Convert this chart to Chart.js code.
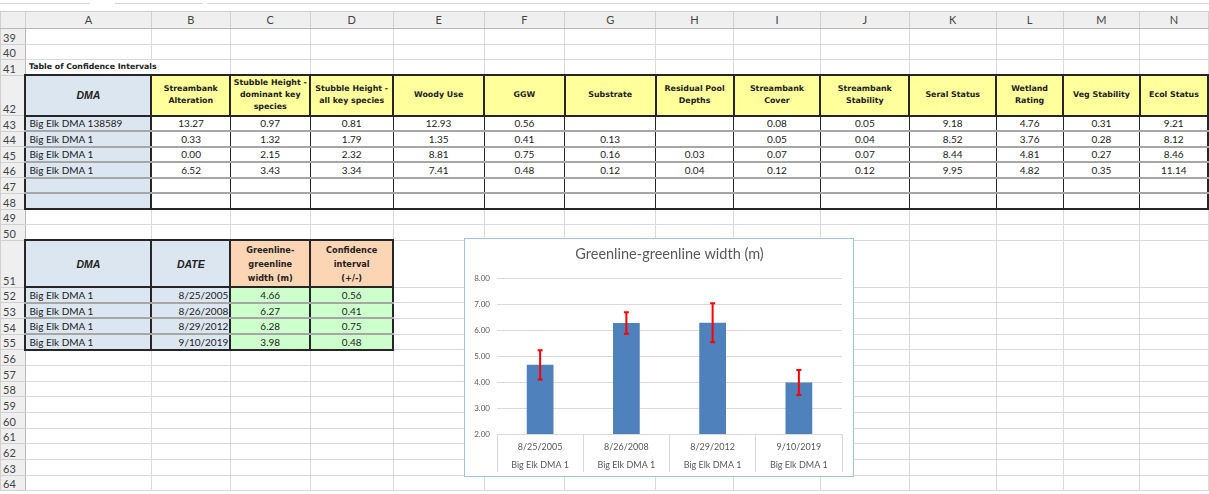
<!DOCTYPE html>
<html>
<head>
<meta charset="utf-8">
<script src="https://cdn.jsdelivr.net/npm/chart.js@4/dist/chart.umd.min.js"></script>
<style>
  body { margin: 0; background: #fff; width: 1209px; height: 494px; overflow: hidden; position: relative; font-family: Lato, "Open Sans", sans-serif; }
  .strip { position: absolute; left: 0; top: 0; width: 1209px; height: 11px; background: #fff; }
  .strip div { position: absolute; top: 3px; height: 0; border-top: 1px solid #d6d6d6; }
  table.sheet { position: absolute; left: 0; top: 11px; border-collapse: collapse; table-layout: fixed; }
  .sheet td { border: 1px solid #dadada; padding: 0 3px; font-size: 10px; color: #222; white-space: nowrap; overflow: visible; line-height: 12px; }
  .sheet tr.hd td { background: #efefef; color: #444; font-size: 11px; text-align: center; border-color: #d0d0d0; border-bottom: 1px solid #b8b8b8; }
  .sheet td.rn { background: #efefef; color: #444; font-size: 11px; vertical-align: bottom; text-align: left; padding-left: 2px; border-color: #d0d0d0; border-right: 1px solid #b8b8b8; }
  .sheet td.corner { background: #efefef linear-gradient(135deg, transparent 62%, #c9c9c9 62%, #c9c9c9 80%, transparent 80%) no-repeat; }
  .sheet td.ttl { font-family: "DejaVu Sans", sans-serif; font-weight: bold; font-size: 7.8px; border-right: none; }
  .sheet td.hy, .sheet td.ho, .sheet td.hb { font-family: "DejaVu Sans", sans-serif; font-weight: bold; font-size: 7.9px; line-height: 12px; text-align: center; border: 2px solid #262626; padding: 0; }
  .sheet td.hy { background: #ffff9c; }
  .sheet td.ho { background: #fcd5b4; font-size: 8.2px; line-height: 14px; }
  .sheet td.hb { background: #dce6f1; font-family: "Liberation Sans", Arial, sans-serif; font-style: italic; font-size: 10.5px; }
  .sheet td.nm { background: #dce6f1; border-left: 2px solid #262626; border-right: 2px solid #262626; border-top: 2px solid #a6a6a6; border-bottom: 2px solid #a6a6a6; }
  .sheet td.dt { background: #dce6f1; text-align: right; border-left: 2px solid #262626; border-right: 2px solid #262626; border-top: 2px solid #a6a6a6; border-bottom: 2px solid #a6a6a6; padding-right: 1px; }
  .sheet td.v { text-align: center; border-left: 1px solid #262626; border-right: 1px solid #262626; border-top: 2px solid #a6a6a6; border-bottom: 2px solid #a6a6a6; }
  .sheet td.vg { background: #ccffcc; text-align: center; border-left: 2px solid #262626; border-right: 2px solid #262626; border-top: 2px solid #a6a6a6; border-bottom: 2px solid #a6a6a6; }
  .sheet td.last { border-right: 2px solid #262626; }
  .sheet tr.end td.nm, .sheet tr.end td.v, .sheet tr.end td.dt, .sheet tr.end td.vg { border-bottom: 2px solid #262626; }
  #box { position: absolute; left: 464px; top: 238px; width: 388px; height: 237px; border: 1px solid #9dc3e6; background: #fff; }
  #chart { display: block; }
</style>
</head>
<body>
<div class="strip"><div style="left:0;width:90px"></div><div style="left:115px;width:88px"></div><div style="left:207px;width:1002px"></div></div>
<table class="sheet" id="sheet"></table>
<div id="box"><canvas id="chart" width="388" height="237"></canvas></div>
<script>
/* ===== CHART DATA ===== */
const chartTitle = "Greenline-greenline width (m)";
const dates = ["8/25/2005", "8/26/2008", "8/29/2012", "9/10/2019"];
const dmaNames = ["Big Elk DMA 1", "Big Elk DMA 1", "Big Elk DMA 1", "Big Elk DMA 1"];
const widths = [4.66, 6.27, 6.28, 3.98];
const confInts = [0.56, 0.41, 0.75, 0.48];
const yTicks = [2, 3, 4, 5, 6, 7, 8];

/* ===== TABLE OF CONFIDENCE INTERVALS ===== */
const ciHeaders = ["Streambank<br>Alteration", "Stubble Height -<br>dominant key<br>species", "Stubble Height -<br>all key species",
  "Woody Use", "GGW", "Substrate", "Residual Pool<br>Depths", "Streambank<br>Cover", "Streambank<br>Stability",
  "Seral Status", "Wetland<br>Rating", "Veg Stability", "Ecol Status"];
const ciNames = ["Big Elk DMA 138589", "Big Elk DMA 1", "Big Elk DMA 1", "Big Elk DMA 1"];
const ciRows = [
  ["13.27", "0.97", "0.81", "12.93", "0.56", "", "", "0.08", "0.05", "9.18", "4.76", "0.31", "9.21"],
  ["0.33", "1.32", "1.79", "1.35", "0.41", "0.13", "", "0.05", "0.04", "8.52", "3.76", "0.28", "8.12"],
  ["0.00", "2.15", "2.32", "8.81", "0.75", "0.16", "0.03", "0.07", "0.07", "8.44", "4.81", "0.27", "8.46"],
  ["6.52", "3.43", "3.34", "7.41", "0.48", "0.12", "0.04", "0.12", "0.12", "9.95", "4.82", "0.35", "11.14"]
];

/* ===== SHEET GRID ===== */
const colW = [25, 126, 79, 80, 83, 91, 81, 91, 78, 87, 89, 87, 67, 77, 68];
const letters = ["A", "B", "C", "D", "E", "F", "G", "H", "I", "J", "K", "L", "M", "N"];

let html = "<colgroup>" + colW.map(w => `<col style="width:${w}px">`).join("") + "</colgroup>";
html += `<tr class="hd" style="height:17px"><td class="corner"></td>` + letters.map(l => `<td>${l}</td>`).join("") + "</tr>";

const empty = n => Array(n).fill("<td></td>").join("");
const rowTag = (num, h, inner, cls) => `<tr${cls ? ` class="${cls}"` : ""} style="height:${h}px"><td class="rn">${num}</td>${inner}</tr>`;

html += rowTag(39, 15.5, empty(14));
html += rowTag(40, 15.5, empty(14));
html += rowTag(41, 15.5, `<td class="ttl" colspan="2">Table of Confidence Intervals</td>` + empty(12));
html += rowTag(42, 40.5, `<td class="hb">DMA</td>` + ciHeaders.map(h => `<td class="hy">${h}</td>`).join(""));
ciRows.forEach((r, i) => {
  html += rowTag(43 + i, 15.6, `<td class="nm">${ciNames[i]}</td>` +
    r.map((v, j) => `<td class="v${j === r.length - 1 ? " last" : ""}">${v}</td>`).join(""));
});
for (let k = 0; k < 2; k++) {
  html += rowTag(47 + k, 15.6, `<td class="nm">&nbsp;</td>` +
    ciHeaders.map((h, j) => `<td class="v${j === ciHeaders.length - 1 ? " last" : ""}"></td>`).join(""), k === 1 ? "end" : "");
}
html += rowTag(49, 15.6, empty(14));
html += rowTag(50, 15.6, empty(14));
html += rowTag(51, 47, `<td class="hb">DMA</td><td class="hb">DATE</td><td class="ho">Greenline-<br>greenline<br>width (m)</td><td class="ho">Confidence<br>interval<br>(+/-)</td>` + empty(10));
dates.forEach((d, i) => {
  html += rowTag(52 + i, 15.6, `<td class="nm">${dmaNames[i]}</td><td class="dt">${d}</td><td class="vg">${widths[i].toFixed(2)}</td><td class="vg">${confInts[i].toFixed(2)}</td>` + empty(10), i === dates.length - 1 ? "end" : "");
});
for (let n = 56; n <= 64; n++) html += rowTag(n, 15.7, empty(14));
document.getElementById("sheet").innerHTML = html;

/* ===== ERROR BARS + TITLE OVER PLOT AREA ===== */
const errorBars = {
  id: "errorBars",
  afterDatasetsDraw(chart) {
    const ctx = chart.ctx;
    const y = chart.scales.y;
    const meta = chart.getDatasetMeta(0);
    ctx.save();
    ctx.strokeStyle = "#ff0000";
    ctx.lineWidth = 2;
    meta.data.forEach((bar, i) => {
      const top = y.getPixelForValue(widths[i] + confInts[i]);
      const bot = y.getPixelForValue(widths[i] - confInts[i]);
      ctx.beginPath();
      ctx.moveTo(bar.x, top); ctx.lineTo(bar.x, bot);
      ctx.moveTo(bar.x - 2.5, top); ctx.lineTo(bar.x + 2.5, top);
      ctx.moveTo(bar.x - 2.5, bot); ctx.lineTo(bar.x + 2.5, bot);
      ctx.stroke();
    });
    ctx.restore();
  }
};

const plotTitle = {
  id: "plotTitle",
  afterDraw(chart) {
    const ctx = chart.ctx;
    const a = chart.chartArea;
    ctx.save();
    ctx.fillStyle = "#595959";
    ctx.font = "14.5px Lato";
    ctx.textAlign = "center";
    ctx.textBaseline = "middle";
    ctx.fillText(chartTitle, (a.left + a.right) / 2, 15);
    ctx.restore();
  }
};

/* ===== CHART ===== */
new Chart(document.getElementById("chart"), {
  type: "bar",
  data: {
    labels: dates.map((d, i) => [d, dmaNames[i]]),
    datasets: [{
      data: widths,
      backgroundColor: "#4f81bd",
      barPercentage: 0.31,
      categoryPercentage: 1
    }]
  },
  options: {
    responsive: false,
    animation: false,
    devicePixelRatio: 1,
    layout: { padding: { left: 0, right: 11, top: 39, bottom: 0 } },
    plugins: {
      legend: { display: false },
      tooltip: { enabled: false },
      title: { display: false }
    },
    scales: {
      y: {
        min: yTicks[0],
        max: yTicks[yTicks.length - 1],
        afterBuildTicks: s => { s.ticks = yTicks.map(v => ({ value: v })); },
        afterFit: s => { s.width = 32; },
        ticks: {
          callback: v => v.toFixed(2),
          color: "#595959",
          font: { family: "Lato", size: 8 },
          padding: 7
        },
        grid: { color: "#d9d9d9", drawTicks: false },
        border: { display: false }
      },
      x: {
        afterFit: s => { s.height = 42; },
        ticks: {
          color: "#595959",
          font: { family: "Lato", size: 9, lineHeight: 2 },
          padding: -34,
          maxRotation: 0,
          autoSkip: false
        },
        grid: { offset: true, drawOnChartArea: false, drawTicks: true, tickLength: 38, color: "#d9d9d9" },
        border: { display: true, color: "#d9d9d9" }
      }
    }
  },
  plugins: [errorBars, plotTitle]
});
</script>
</body>
</html>
